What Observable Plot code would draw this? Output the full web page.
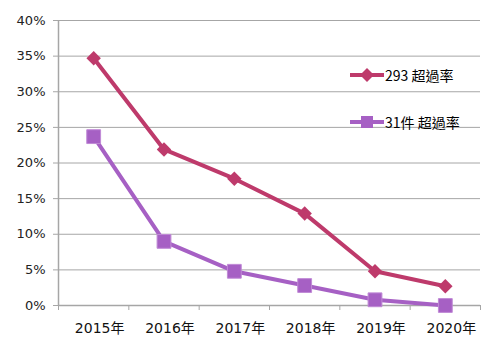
<!DOCTYPE html>
<html><head><meta charset="utf-8">
<script src="https://cdn.jsdelivr.net/npm/d3@7"></script>
<script src="https://cdn.jsdelivr.net/npm/@observablehq/plot@0.6"></script>
<style>
html,body{margin:0;padding:0;background:#fff;}
#wrap{position:relative;width:502px;height:352px;overflow:hidden;}
#wrap svg{display:block;}
.leg{position:absolute;left:350px;height:20px;display:flex;align-items:center;font:14px "Noto Sans CJK TC","Noto Sans",sans-serif;color:#000;white-space:nowrap;}
.leg svg{margin-right:1px;}
</style></head><body><div id="wrap"></div>
<script>
const years = ["2015年", "2016年", "2017年", "2018年", "2019年", "2020年"];
const rate293 = [0.347, 0.219, 0.178, 0.129, 0.048, 0.027];
const rate31 = [0.237, 0.090, 0.048, 0.028, 0.008, 0.000];
const seriesNames = ["293 超過率", "31件 超過率"];
const colors = ["#BE3A6B", "#A660C4"];
const yTicks = [0, 0.05, 0.10, 0.15, 0.20, 0.25, 0.30, 0.35, 0.40];

const rows = (vals) => years.map((y, i) => ({i, year: y, v: vals[i]}));
const d1 = rows(rate293);
const d2 = rows(rate31);
const centers = years.map((_, i) => i);
const bounds = [...years.map((_, i) => i - 0.5), years.length - 0.5];

const grid = "#a6a6a6";
const chart = Plot.plot({
  width: 502,
  height: 352,
  marginLeft: 58,
  marginRight: 22,
  marginTop: 20,
  marginBottom: 47,
  style: {fontFamily: '"DejaVu Sans","Noto Sans CJK TC",sans-serif', background: "#fff"},
  x: {type: "linear", domain: [-0.5, years.length - 0.5], axis: null},
  y: {domain: [0, 0.4], axis: null},
  marks: [
    Plot.gridY(yTicks, {stroke: grid, strokeOpacity: 1, strokeWidth: 1}),
    Plot.axisY(yTicks, {tickSize: 5, tickPadding: 8, stroke: grid, tickFormat: d3.format(".0%"), fontSize: 13, fill: "#222", label: null}),
    Plot.ruleX([-0.5], {stroke: grid, strokeWidth: 1.5}),
    Plot.ruleY([0], {stroke: grid, strokeWidth: 1.5}),
    Plot.axisX(bounds, {tickSize: 5, stroke: grid, tickFormat: () => "", label: null}),
    Plot.axisX(centers, {tickSize: 0, tickPadding: 18, tickFormat: (i) => years[i], fontSize: 14, fill: "#111", dx: 6, label: null}),
    Plot.line(d1, {x: "i", y: "v", stroke: colors[0], strokeWidth: 4, strokeLinejoin: "round"}),
    Plot.dot(d1, {x: "i", y: "v", symbol: "diamond2", r: 6.5, fill: colors[0], stroke: "none"}),
    Plot.line(d2, {x: "i", y: "v", stroke: colors[1], strokeWidth: 4, strokeLinejoin: "round"}),
    Plot.dot(d2, {x: "i", y: "v", symbol: "square", r: 7.8, fill: colors[1], stroke: "#c08ad6", strokeWidth: 1})
  ]
});
const wrap = document.getElementById("wrap");
wrap.appendChild(chart);

const legTops = [65, 112];
seriesNames.forEach((name, k) => {
  const div = document.createElement("div");
  div.className = "leg";
  div.style.top = legTops[k] + "px";
  const marker = k === 0
    ? `<path d="M17,3 L24,10 L17,17 L10,10 Z" fill="${colors[0]}"/>`
    : `<rect x="11" y="4" width="12" height="12" fill="${colors[1]}"/>`;
  div.innerHTML = `<svg width="34" height="20"><line x1="0" x2="34" y1="10" y2="10" stroke="${colors[k]}" stroke-width="4"/>${marker}</svg><span>${name}</span>`;
  wrap.appendChild(div);
});
</script></body></html>
